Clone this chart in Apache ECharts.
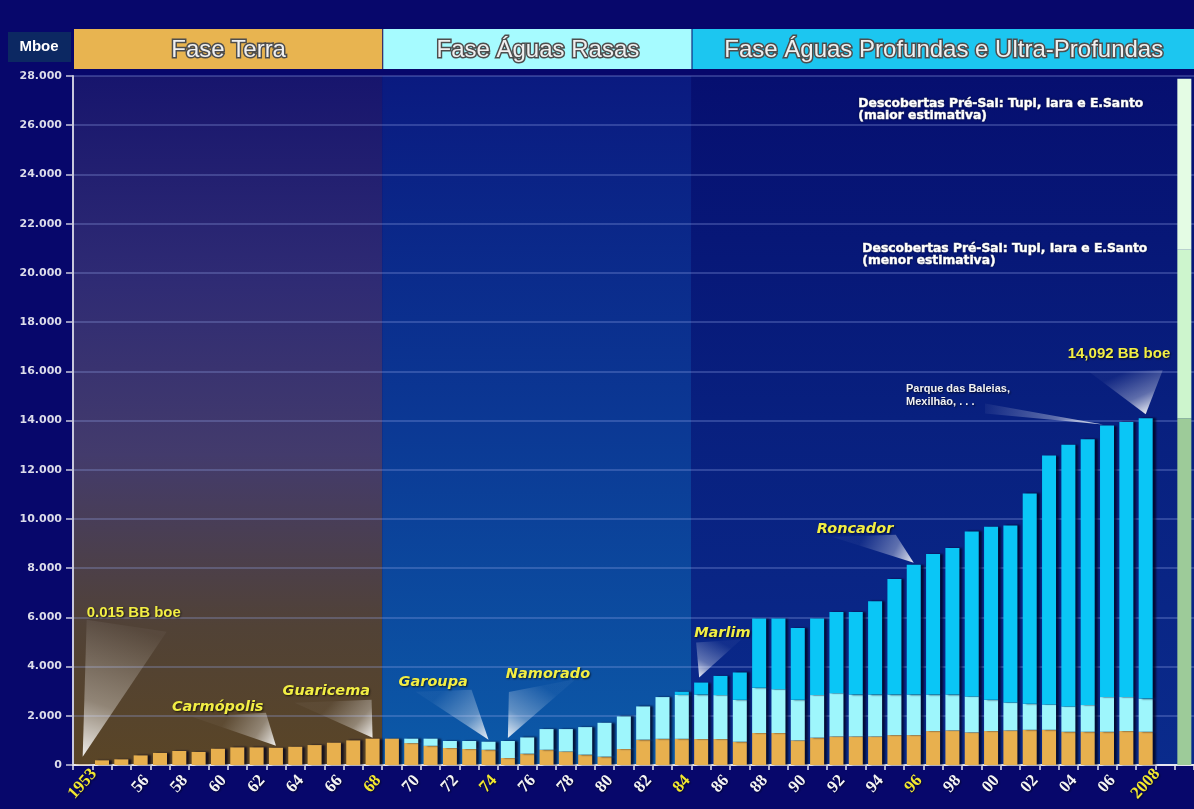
<!DOCTYPE html>
<html>
<head>
<meta charset="utf-8">
<script src="https://cdn.jsdelivr.net/npm/echarts@6/dist/echarts.min.js"></script>
<style>
  html, body { margin: 0; padding: 0; background: #07076b; }
  #chart { width: 1194px; height: 809px; }
</style>
</head>
<body>
<div id="chart"></div>
<script>
// Reservas provadas (Mboe) por ano, separadas por ambiente de descoberta
const years = ['1953','1954','1955','1956','1957','1958','1959','1960','1961','1962','1963','1964','1965','1966','1967','1968',
  '1969','1970','1971','1972','1973','1974','1975','1976','1977','1978','1979','1980','1981','1982','1983','1984',
  '1985','1986','1987','1988','1989','1990','1991','1992','1993','1994','1995','1996','1997','1998','1999','2000',
  '2001','2002','2003','2004','2005','2006','2007','2008','2009','2010'];

const tickLabels = ['1953','','','56','','58','','60','','62','','64','','66','','68',
  '','70','','72','','74','','76','','78','','80','','82','','84',
  '','86','','88','','90','','92','','94','','96','','98','','00',
  '','02','','04','','06','','2008','',''];

const highlightedTicks = ['1953','68','74','84','96','2008'];

const terra = [15,190,230,390,490,570,530,660,715,715,700,740,810,905,1000,1070,
  1070,890,780,690,650,620,285,460,620,550,420,340,650,1030,1065,1065,
  1055,1055,945,1300,1300,1000,1110,1160,1160,1160,1215,1215,1380,1405,1325,1380,
  1405,1430,1430,1350,1350,1350,1380,1350,null,null];

const aguasRasas = [0,0,0,0,0,0,0,0,0,0,0,0,0,0,0,0,
  0,180,290,285,325,325,690,660,840,910,1120,1375,1325,1350,1695,1785,
  1810,1785,1705,1835,1780,1650,1730,1760,1705,1705,1650,1650,1485,1460,1460,1270,
  1135,1060,1030,1030,1085,1410,1380,1350,null,null];

const aguasProfundas = [0,0,0,0,0,0,0,0,0,0,0,0,0,0,0,0,
  0,0,0,0,0,0,0,0,0,0,0,0,0,0,0,125,
  485,780,1110,2815,2870,2920,3110,3300,3355,3785,4695,5275,5705,5950,6705,7030,
  7195,8545,10115,10630,10805,11035,11180,11392,null,null];

// Pré-Sal: base atual + menor estimativa + acréscimo até a maior estimativa
const preSalBase = [null,null,null,null,null,null,null,null,null,null,null,null,null,null,null,null,
  null,null,null,null,null,null,null,null,null,null,null,null,null,null,null,null,
  null,null,null,null,null,null,null,null,null,null,null,null,null,null,null,null,
  null,null,null,null,null,null,null,null,null,14092];
const preSalMenor = [null,null,null,null,null,null,null,null,null,null,null,null,null,null,null,null,
  null,null,null,null,null,null,null,null,null,null,null,null,null,null,null,null,
  null,null,null,null,null,null,null,null,null,null,null,null,null,null,null,null,
  null,null,null,null,null,null,null,null,null,6850];
const preSalMaior = [null,null,null,null,null,null,null,null,null,null,null,null,null,null,null,null,
  null,null,null,null,null,null,null,null,null,null,null,null,null,null,null,null,
  null,null,null,null,null,null,null,null,null,null,null,null,null,null,null,null,
  null,null,null,null,null,null,null,null,null,6950];

const phases = [
  { name: 'Fase Terra', from: '1953', to: '1968', header: '#e8b450' },
  { name: 'Fase Águas Rasas', from: '1969', to: '1984', header: '#a6fbff' },
  { name: 'Fase Águas Profundas e Ultra-Profundas', from: '1985', to: '2010', header: '#1cc6f0' }
];

// Chamadas: ano da barra indicada, texto, e deslocamentos (px) a partir do topo da barra
const callouts = [
  { year: '1953', text: '0.015 BB boe', style: 'value', dx: 4, dy: -152, beam: [[4,-145],[84,-133],[0,-8]] },
  { year: '1963', text: 'Carmópolis', style: 'field', dx: -104, dy: -41, beam: [[-84,-31],[-10,-35],[0,-2]] },
  { year: '1968', text: 'Guaricema', style: 'field', dx: -90, dy: -47, beam: [[-78,-36],[-1,-39],[0,-1]] },
  { year: '1974', text: 'Garoupa', style: 'field', dx: -90, dy: -60, beam: [[-73,-50],[-17,-52],[0,-2]] },
  { year: '1975', text: 'Namorado', style: 'field', dx: -2, dy: -67, beam: [[1,-49],[68,-62],[0,-3]] },
  { year: '1985', text: 'Marlim', style: 'field', dx: -7, dy: -49, beam: [[-5,-40],[40,-43],[-2,-5]] },
  { year: '1996', text: 'Roncador', style: 'field', dx: -97, dy: -35, beam: [[-82,-28],[-18,-30],[0,-2]] },
  { year: '2006', text: 'Parque das Baleias,\nMexilhão, . . .', style: 'note', dx: -201, dy: -30, beam: [[-122,-22],[-122,-12],[-4,-1]] },
  { year: '2008', text: '14,092 BB boe', style: 'value', dx: -78, dy: -64, beam: [[-56,-46],[17,-48],[0,-4]] }
];

const preSalNotes = [
  { level: 'maior', text: 'Descobertas Pré-Sal: Tupi, Iara e E.Santo\n(maior estimativa)', dx: -326, dy: 19 },
  { level: 'menor', text: 'Descobertas Pré-Sal: Tupi, Iara e E.Santo\n(menor estimativa)', dx: -322, dy: -7 }
];

const chart = echarts.init(document.getElementById('chart'), null, { renderer: 'canvas' });

const barShadow = { shadowColor: 'rgba(0,0,25,0.75)', shadowOffsetX: 3, shadowBlur: 2 };
function stackSeries(name, data, color, stack) {
  return {
    name: name, type: 'bar', stack: stack, data: data, barWidth: 14, barGap: '-100%',
    itemStyle: Object.assign({ color: color }, stack === 'reservas' ? barShadow : {}),
    animation: false
  };
}

const option = {
  backgroundColor: '#07076b',
  animation: false,
  grid: { left: 73, top: 76, width: 1123, height: 689, containLabel: false },
  xAxis: {
    type: 'category',
    data: years,
    axisLine: { lineStyle: { color: '#e6e6f0', width: 2 } },
    axisTick: { show: true, interval: 0, length: 5, lineStyle: { color: '#e6e6f0', width: 1.5 } },
    axisLabel: {
      interval: 0,
      rotate: 48,
      align: 'center',
      verticalAlign: 'middle',
      margin: 19,
      formatter: function (v, i) {
        const t = tickLabels[i];
        if (!t) return '';
        return highlightedTicks.indexOf(t) >= 0 ? '{y|' + t + '}' : '{w|' + t + '}';
      },
      rich: {
        w: { color: '#f4f4f4', fontFamily: 'Liberation Serif', fontWeight: 'bold', fontSize: 17,
             textShadowColor: 'rgba(0,0,0,0.6)', textShadowBlur: 2, textShadowOffsetX: 1, textShadowOffsetY: 1 },
        y: { color: '#f2e830', fontFamily: 'Liberation Serif', fontWeight: 'bold', fontSize: 17,
             textShadowColor: 'rgba(0,0,0,0.6)', textShadowBlur: 2, textShadowOffsetX: 1, textShadowOffsetY: 1 }
      }
    },
    splitLine: { show: false }
  },
  yAxis: {
    type: 'value',
    min: 0, max: 28000, interval: 2000,
    axisLine: { show: true, lineStyle: { color: '#c8c8dc', width: 2 } },
    axisTick: { show: true, length: 7, lineStyle: { color: '#c8c8dc', width: 1.5 } },
    axisLabel: {
      margin: 11,
      color: '#dcdcea',
      fontFamily: 'DejaVu Sans',
      fontWeight: 'bold',
      fontSize: 11,
      formatter: function (v) { return String(v).replace(/\B(?=(\d{3})+(?!\d))/g, '.'); }
    },
    splitLine: { show: true, lineStyle: { color: 'rgba(150,165,235,0.38)', width: 1.5 } }
  },
  series: [
    stackSeries('Fase Terra', terra, '#e8b04e', 'reservas'),
    stackSeries('Fase Águas Rasas', aguasRasas, '#9ef6fc', 'reservas'),
    stackSeries('Fase Águas Profundas', aguasProfundas, '#0ac6f6', 'reservas'),
    stackSeries('Pré-Sal base', preSalBase, '#9dcb99', 'presal'),
    stackSeries('Pré-Sal menor estimativa', preSalMenor, '#cdf5cd', 'presal'),
    stackSeries('Pré-Sal maior estimativa', preSalMaior, '#e4fce4', 'presal')
  ]
};

chart.setOption(option);

// Posições derivadas das escalas do gráfico
function px(year, value) {
  return chart.convertToPixel({ gridIndex: 0 }, [year, value]);
}
const band = px('1954', 0)[0] - px('1953', 0)[0];
const yTop = px('1953', 28000)[1];
const yBottom = px('1953', 0)[1];
const W = chart.getWidth();

function stackTop(year) {
  const i = years.indexOf(year);
  return (terra[i] || 0) + (aguasRasas[i] || 0) + (aguasProfundas[i] || 0);
}

const phaseBackgrounds = [
  [{ offset: 0, color: '#17156d' }, { offset: 0.3, color: '#2f2b74' }, { offset: 0.55, color: '#433b6c' },
   { offset: 0.8, color: '#514236' }, { offset: 1, color: '#5a4526' }],
  [{ offset: 0, color: '#0a1a80' }, { offset: 0.5, color: '#0b3894' }, { offset: 1, color: '#0c5aa8' }],
  [{ offset: 0, color: '#060f70' }, { offset: 0.5, color: '#08207f' }, { offset: 1, color: '#0a2b8c' }]
];

const graphics = [];

// Fundos e cabeçalhos das fases
phases.forEach(function (p, k) {
  const x0 = px(p.from, 0)[0] - band / 2;
  const x1 = k === phases.length - 1 ? W : px(p.to, 0)[0] + band / 2;
  graphics.push({
    type: 'rect', z: -10, silent: true,
    shape: { x: x0, y: yTop, width: x1 - x0, height: yBottom - yTop },
    style: { fill: new echarts.graphic.LinearGradient(0, 0, 0, 1, phaseBackgrounds[k]) }
  });
  graphics.push({
    type: 'rect', z: 5, silent: true,
    shape: { x: x0 + 1, y: 29, width: x1 - x0 - 1, height: 40 },
    style: { fill: p.header }
  });
  graphics.push({
    type: 'text', z: 6, silent: true,
    x: (x0 + x1) / 2 + 1, y: 50,
    style: {
      text: p.name, fill: '#f0f0f0', stroke: '#4d4d4d', lineWidth: 3,
      font: '24px "Liberation Sans", Arial, sans-serif',
      textAlign: 'center', textVerticalAlign: 'middle'
    }
  });
});

// Caixa da unidade
graphics.push({
  type: 'rect', z: 5, silent: true,
  shape: { x: 8, y: 32, width: 63, height: 30 },
  style: { fill: '#0c2862' }
});
graphics.push({
  type: 'text', z: 6, silent: true, x: 39, y: 47,
  style: { text: 'Mboe', fill: '#ffffff', font: 'bold 15px "Liberation Sans", Arial, sans-serif',
           textAlign: 'center', textVerticalAlign: 'middle' }
});

const labelStyles = {
  value: { fill: '#f2ee44', font: 'bold 15px "Liberation Sans", Arial, sans-serif' },
  field: { fill: '#f2ee44', font: 'oblique bold 14.5px "DejaVu Sans", sans-serif' },
  note:  { fill: '#f2f2f2', font: 'bold 11px "Liberation Sans", Arial, sans-serif' }
};

// Chamadas com feixe de luz apontando para a barra
callouts.forEach(function (c) {
  const top = px(c.year, stackTop(c.year));
  const pts = c.beam.map(function (d) { return [top[0] + d[0], top[1] + d[1]]; });
  const baseMid = [(pts[0][0] + pts[1][0]) / 2, (pts[0][1] + pts[1][1]) / 2];
  graphics.push({
    type: 'polygon', z: 20, silent: true,
    shape: { points: pts },
    style: {
      fill: new echarts.graphic.LinearGradient(baseMid[0], baseMid[1], pts[2][0], pts[2][1], [
        { offset: 0, color: 'rgba(255,255,255,0.04)' },
        { offset: 0.6, color: 'rgba(255,255,255,0.35)' },
        { offset: 1, color: 'rgba(255,255,255,0.9)' }
      ], true)
    }
  });
  const s = labelStyles[c.style];
  graphics.push({
    type: 'text', z: 21, silent: true,
    x: top[0] + c.dx, y: top[1] + c.dy,
    style: {
      text: c.text, fill: s.fill, font: s.font, lineHeight: 13,
      textAlign: 'left', textVerticalAlign: 'middle',
      textShadowColor: 'rgba(0,0,0,0.7)', textShadowBlur: 2, textShadowOffsetX: 1, textShadowOffsetY: 1
    }
  });
});

// Notas das estimativas do Pré-Sal, ancoradas no topo de cada faixa
const preSalIdx = years.length - 1;
const preSalTops = {
  menor: preSalBase[preSalIdx] + preSalMenor[preSalIdx],
  maior: preSalBase[preSalIdx] + preSalMenor[preSalIdx] + preSalMaior[preSalIdx]
};
preSalNotes.forEach(function (n) {
  const p = px(years[preSalIdx], preSalTops[n.level]);
  graphics.push({
    type: 'text', z: 21, silent: true,
    x: p[0] + n.dx, y: p[1] + n.dy,
    style: {
      text: n.text, fill: '#ffffff', stroke: '#ffffff', lineWidth: 0.6,
      font: 'bold 12.3px "DejaVu Sans", sans-serif', lineHeight: 12,
      textAlign: 'left', textVerticalAlign: 'top',
      textShadowColor: 'rgba(0,0,0,0.5)', textShadowBlur: 2
    }
  });
});

chart.setOption({ graphic: { elements: graphics } });
</script>
</body>
</html>
